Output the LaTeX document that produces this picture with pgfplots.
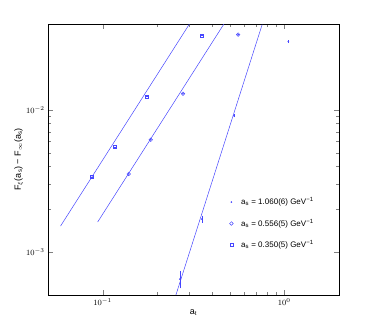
\documentclass[border=0pt]{standalone}
\usepackage{fontspec}
\setmainfont{Liberation Sans}
\usepackage{pgfplots}
\pgfplotsset{compat=1.18}

\definecolor{mlblue}{RGB}{70,70,255}

\begin{document}
\begin{tikzpicture}
\begin{loglogaxis}[
  scale only axis, width=291pt, height=271pt,
  xmin=0.05, xmax=2, ymin=5e-4, ymax=0.04,
  xtick={0.1,1}, ytick={1e-3,1e-2},
  tick align=inside, axis line style={line width=0.6pt},
  major tick length=5pt, minor tick length=3pt,
  tick label style={font=\footnotesize},
  log number format basis/.code 2 args={\pgfmathparse{#2}\pgfmathprintnumberto[fixed,precision=0]{\pgfmathresult}\tmpexp$10^{\tmpexp}$},
  xlabel={a\textsubscript{t}}, xlabel style={font=\small, yshift=2pt},
  ylabel={F\textsubscript{$\xi$}(a\textsubscript{s}) − F\textsubscript{$\infty$}(a\textsubscript{s})},
  ylabel style={font=\small, yshift=-4pt},
  legend cell align=left,
  legend style={draw=none, fill=none, at={(0.613,0.374)}, anchor=north west,
    font=\footnotesize, row sep=9pt,
    /tikz/every odd column/.append style={column sep=6pt}},
]
% a_s = 1.060(6)
\addplot[only marks, mark=*, mark size=0.6pt, color=mlblue,
  error bars/.cd, y dir=both, y explicit, error bar style={line width=0.4pt},
  error mark options={mark size=1pt}]
  coordinates {(0.266,0.000646) +- (0,0.00008) (0.352,0.001707) +- (0,0.00007) (0.529,0.00907) +- (0,0.0001) (1.052,0.0301) +- (0,0.0001)};
\addlegendentry{a\textsubscript{s} = 1.060(6) GeV\textsuperscript{−1}}
% a_s = 0.556(5)
\addplot[only marks, mark=o, mark size=1.8pt, color=mlblue, mark options={line width=0.5pt}]
  coordinates {(0.1392,0.003542) (0.184,0.00615) (0.2767,0.01296) (0.557,0.0337)};
\addlegendentry{a\textsubscript{s} = 0.556(5) GeV\textsuperscript{−1}}
% a_s = 0.350(5)
\addplot[only marks, mark=square, mark size=1.6pt, color=mlblue, mark options={line width=0.5pt}]
  coordinates {(0.0869,0.003373) (0.1165,0.005488) (0.1750,0.01235) (0.352,0.0332)};
\addlegendentry{a\textsubscript{s} = 0.350(5) GeV\textsuperscript{−1}}
% fits
\addplot[forget plot, color=mlblue, line width=0.5pt] coordinates {(0.0586,0.001524) (0.3,0.0399)};
\addplot[forget plot, color=mlblue, line width=0.5pt] coordinates {(0.0938,0.001626) (0.465,0.04)};
\addplot[forget plot, color=mlblue, line width=0.5pt] coordinates {(0.253,0.0005) (0.755,0.0396)};
% small marks inside the symbols
\addplot[forget plot, only marks, mark=*, mark size=0.5pt, color=mlblue]
  coordinates {(0.1392,0.003542) (0.184,0.00615) (0.2767,0.01296) (0.557,0.0337)};
\addplot[forget plot, only marks, mark=-, mark size=1pt, color=mlblue]
  coordinates {(0.0869,0.003373) (0.1165,0.005488) (0.1750,0.01235) (0.352,0.0332)};
\end{loglogaxis}
\path (current axis.south west) ++(-48pt,-37pt) rectangle ++(374pt,332pt);
\end{tikzpicture}
\end{document}
